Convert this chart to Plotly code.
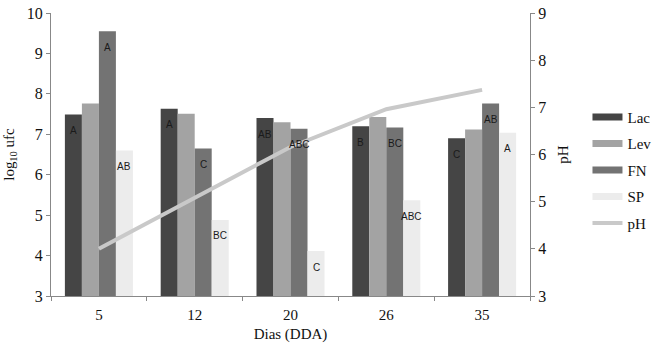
import plotly.graph_objects as go

dias = ["5", "12", "20", "26", "35"]
lac = [7.49, 7.63, 7.40, 7.20, 6.90]
lev = [7.76, 7.51, 7.30, 7.43, 7.12]
fn = [9.55, 6.65, 7.14, 7.17, 7.76]
sp = [6.60, 4.88, 4.11, 5.37, 7.04]
ph = [4.00, 5.07, 6.16, 6.96, 7.37]

lac_lbl = ["A", "A", "AB", "B", "C"]
fn_lbl = ["A", "C", "ABC", "BC", "AB"]
sp_lbl = ["AB", "BC", "C", "ABC", "A"]

serif = "Liberation Serif"
lbl_font = dict(family="Liberation Sans", size=10, color="#1a1a1a")

W, H = 655, 356
ML, MR, MT, MB = 51, 125, 12.5, 60
BARGAP = 0.29
plot_w = W - ML - MR
cat_w = plot_w / len(dias)
bar_w = cat_w * (1 - BARGAP) / 4

fig = go.Figure()
series = [("Lac", lac, "#454545", lac_lbl), ("Lev", lev, "#a3a3a3", None),
          ("FN", fn, "#737373", fn_lbl), ("SP", sp, "#ececec", sp_lbl)]

for k, (name, y, color, lbls) in enumerate(series):
    fig.add_trace(go.Bar(
        x=dias, y=y, name=name, showlegend=False,
        marker=dict(color=color, line=dict(width=0)), hoverinfo="skip",
    ))
    if lbls:
        for i, (yi, t) in enumerate(zip(y, lbls)):
            fig.add_annotation(
                x=i, y=yi, xref="x", yref="y", text=t, showarrow=False,
                xshift=(k - 1.5) * bar_w, yshift=-16, font=lbl_font,
                xanchor="center", yanchor="middle",
            )

fig.add_trace(go.Scatter(
    x=dias, y=ph, name="pH", yaxis="y2", mode="lines", showlegend=False,
    line=dict(color="#c9c9c9", width=4), hoverinfo="skip",
))

# legend entries drawn as wide flat swatches like the original
for name, _, color, _ in series:
    fig.add_trace(go.Scatter(
        x=[None], y=[None], mode="lines", name=name, legendgroup=name,
        line=dict(color=color, width=7), hoverinfo="skip",
    ))
fig.add_trace(go.Scatter(
    x=[None], y=[None], mode="lines", name="pH", legendgroup="pH", yaxis="y2",
    line=dict(color="#c9c9c9", width=4), hoverinfo="skip",
))

fig.update_layout(
    width=W, height=H,
    margin=dict(l=ML, r=MR, t=MT, b=MB, autoexpand=False),
    paper_bgcolor="white", plot_bgcolor="white",
    barmode="group", bargap=BARGAP, bargroupgap=0,
    font=dict(family=serif, size=15, color="#111111"),
    xaxis=dict(
        type="category", range=[-0.5, len(dias) - 0.5],
        showgrid=False, showline=True, linecolor="#888888",
        ticks="outside", tickson="boundaries", ticklen=4, tickcolor="#888888",
        tickfont=dict(family=serif, size=15), automargin=False,
        ticklabelstandoff=5,
        title=dict(text="Dias (DDA)", font=dict(family=serif, size=15), standoff=6),
    ),
    yaxis=dict(
        range=[3, 10], dtick=1, showgrid=False, showline=True, linecolor="#888888",
        ticks="outside", ticklen=4, tickcolor="#888888", zeroline=False,
        tickfont=dict(family=serif, size=16), automargin=False,
        title=dict(text="log<sub>10</sub> ufc", font=dict(family=serif, size=15), standoff=8),
    ),
    yaxis2=dict(
        range=[3, 9], dtick=1, overlaying="y", side="right", showgrid=False,
        showline=True, linecolor="#888888", ticks="outside", ticklen=4,
        tickcolor="#888888", zeroline=False, automargin=False,
        tickfont=dict(family=serif, size=16),
        title=dict(text="pH", font=dict(family=serif, size=15), standoff=12),
    ),
    legend=dict(
        x=1.12, xanchor="left", y=0.69, yanchor="top",
        font=dict(family=serif, size=15), tracegroupgap=4,
        itemwidth=30, bgcolor="rgba(0,0,0,0)",
    ),
    showlegend=True,
)

fig.write_html("out.html", config={"displayModeBar": False},
               post_script="document.body.style.margin='0px';")
